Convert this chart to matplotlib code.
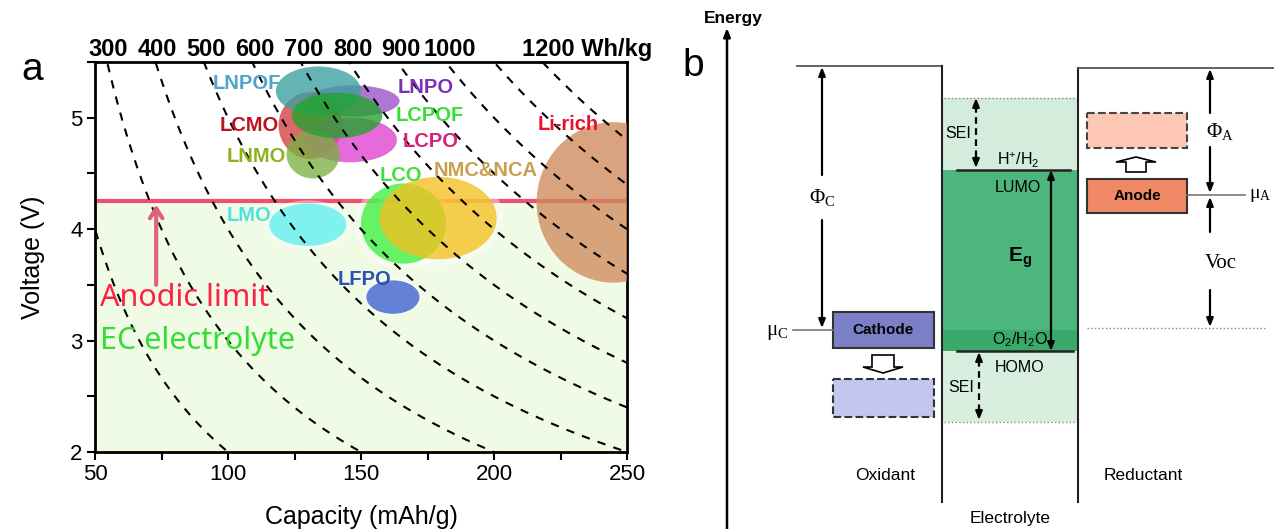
import numpy as np
import matplotlib.pyplot as plt
from matplotlib.patches import Ellipse, Rectangle, FancyArrow

plt.rcParams['font.family'] = ['Liberation Sans', 'DejaVu Sans']
plt.rcParams['mathtext.fontset'] = 'custom'
plt.rcParams['mathtext.rm'] = 'Liberation Serif'
plt.rcParams['mathtext.sf'] = 'Liberation Sans'
plt.rcParams['mathtext.bf'] = 'Liberation Sans:bold'
plt.rcParams['mathtext.it'] = 'Liberation Serif:italic'

# --- panel a data: cathode materials (capacity mAh/g, voltage V) ---
materials = ['LNPO', 'LCMO', 'LCPO', 'LNMO', 'LNPOF', 'LCPOF',
             'Li-rich', 'LMO', 'LCO', 'NMC&NCA', 'LFPO']
cap_center = [147, 131, 146, 132, 134, 141, 245, 130, 166, 179, 162]
cap_width = [35, 24, 35, 20, 32, 34, 58, 29, 32, 44, 20]
volt_center = [5.15, 4.93, 4.80, 4.67, 5.24, 5.02, 4.24, 4.04, 4.05, 4.10, 3.39]
volt_height = [0.28, 0.60, 0.40, 0.43, 0.44, 0.41, 1.44, 0.38, 0.72, 0.74, 0.30]
fill_colors = ['#9b4fc8', '#d04040', '#e040d0', '#7ab040', '#3a9fa0', '#1fa52a',
               '#cf8a5c', '#5ef0f0', '#3ef03e', '#f5c020', '#3a5fd0']
label_colors = ['#7d2fb5', '#b8141e', '#d8207a', '#8fb020', '#4fa5c8', '#35e035',
                '#e8102a', '#50e0e0', '#40e040', '#c8a050', '#2c4fb0']

energies = [200, 300, 400, 500, 600, 700, 800, 900, 1000, 1100, 1200]   # Wh/kg
top_energies = [300, 400, 500, 600, 700, 800, 900, 1000]
anodic_limit = 4.25

# --- panel b data: energy levels (schematic, y grows downward) ---
vacuum_c = 66
vacuum_a = 68
sei_top = 98
lumo = 170
mu_a = 195
mu_c = 330
homo = 351
sei_bottom = 422

fig = plt.figure(figsize=(12.74, 5.29), dpi=100)

# ================= panel a =================
ax = fig.add_axes([95/1274, 77/529, 532/1274, 390/529])
ax.set_xlim(50, 250)
ax.set_ylim(2, 5.5)
ax.axhspan(2, anodic_limit, color='#f0fbe6', zorder=0)
ax.axhline(anodic_limit, color='#f0506e', lw=3, zorder=1)

for m, c, w, v, h, fc in zip(materials, cap_center, cap_width, volt_center, volt_height, fill_colors):
    if m in ('LMO', 'LCO', 'NMC&NCA', 'LFPO'):
        ax.add_patch(Ellipse((c, v), w * 1.12, h * 1.15, fc='white', alpha=0.4, lw=0, zorder=2))
    ax.add_patch(Ellipse((c, v), w, h, fc=fc, alpha=0.78, lw=0, zorder=3))

cap = np.linspace(40, 260, 500)
for e in energies:
    ax.plot(cap, e / cap, color='black', lw=1.5, ls=(0, (4, 4)), zorder=4)

label_pos = {
    'LNPOF': (107, 5.31), 'LNPO': (174.5, 5.27), 'LCPOF': (176, 5.02),
    'LCPO': (176, 4.79), 'LCMO': (108, 4.93), 'LNMO': (110.5, 4.65),
    'Li-rich': (228, 4.94), 'LCO': (165, 4.48), 'NMC&NCA': (197, 4.53),
    'LMO': (108, 4.12), 'LFPO': (151.5, 3.55),
}
for m, col in zip(materials, label_colors):
    x, y = label_pos[m]
    ax.text(x, y, m, color=col, fontsize=14.5, fontweight='bold', ha='center', va='center', zorder=5)

ax.annotate('', xy=(73, 4.22), xytext=(73, 3.5),
            arrowprops=dict(arrowstyle='->,head_length=0.7,head_width=0.45', color='#e06080', lw=3,
                            shrinkA=0, shrinkB=0), zorder=5)
ax.text(52, 3.38, 'Anodic limit', color='#ff2040', fontsize=22, family=['Noto Sans', 'DejaVu Sans'],
        ha='left', va='center', zorder=5)
ax.text(52, 3.0, 'EC electrolyte', color='#33dd33', fontsize=22, family=['Noto Sans', 'DejaVu Sans'],
        ha='left', va='center', zorder=5)

# energy-density labels on top, where the iso-energy curves meet the top edge
for e in top_energies:
    ax.text(e / 5.45, 1.015, str(e), transform=ax.get_xaxis_transform(), ha='center', va='baseline',
            fontsize=17, fontweight='bold')
ax.text(1200 / 5.45 - 9.8, 1.015, '1200 Wh/kg', transform=ax.get_xaxis_transform(), ha='left',
        va='baseline', fontsize=17, fontweight='bold')

ax.set_xticks([50, 100, 150, 200, 250])
ax.set_xticks([75, 125, 175, 225], minor=True)
ax.set_yticks([2, 3, 4, 5])
ax.set_yticks([2.5, 3.5, 4.5, 5.5], minor=True)
ax.tick_params(which='both', direction='out', length=6, width=1.5, labelsize=16, pad=3)
for s in ax.spines.values():
    s.set_linewidth(2)
ax.set_xlabel('Capacity (mAh/g)', fontsize=18, labelpad=14)
ax.set_ylabel('Voltage (V)', fontsize=18, labelpad=18)
fig.text(32/1274, 1 - 70/529, 'a', fontsize=28, ha='center', va='center')

# ================= panel b =================
bx = fig.add_axes([680/1274, 0, 594/1274, 1])
bx.set_xlim(680, 1274)
bx.set_ylim(529, 0)
bx.axis('off')

def arrow(x0, y0, x1, y1, style='-|>', lw=1.6):
    bx.annotate('', xy=(x1, y1), xytext=(x0, y0),
                arrowprops=dict(arrowstyle=style + ',head_length=0.5,head_width=0.2', color='black', lw=lw,
                                shrinkA=0, shrinkB=0))

# energy axis
arrow(727, 529, 727, 28, lw=1.8)
bx.text(733, 18, 'Energy', fontsize=12.5, fontweight='bold', ha='center', va='center')
bx.text(693, 66, 'b', fontsize=28, ha='center', va='center')

# electrolyte bands
bx.fill_between([942, 1078], sei_top, lumo, color='#d4ecdc', lw=0)
bx.fill_between([942, 1078], lumo, homo, color='#4cb67c', lw=0)
bx.fill_between([942, 1078], mu_c, homo, color='#3aaa6a', lw=0)
bx.fill_between([942, 1078], homo, sei_bottom, color='#d8efdf', lw=0)
bx.plot([944, 1076], [sei_top, sei_top], ls=':', color='#888888', lw=1)
bx.plot([944, 1076], [sei_bottom, sei_bottom], ls=':', color='#888888', lw=1)

# walls / vacuum levels
bx.plot([797, 942], [vacuum_c, vacuum_c], color='#555555', lw=1.3)
bx.plot([942, 942], [vacuum_c, 502], color='#222222', lw=1.5)
bx.plot([1078, 1078], [vacuum_a, 502], color='#222222', lw=1.5)
bx.plot([1078, 1274], [vacuum_a, vacuum_a], color='#555555', lw=1.3)

# LUMO / HOMO and Eg
bx.plot([957, 1070], [lumo, lumo], color='#222222', lw=1.8)
bx.plot([957, 1073], [homo, homo], color='#222222', lw=1.8)
arrow(1051, homo, 1051, lumo, style='<|-|>')
bx.text(1020, 258, r'$\mathbf{E_g}$', fontsize=15, ha='center', va='center')
bx.text(1018, 160, r'$\mathsf{H^{+}/H_2}$', fontsize=11.5, ha='center', va='center')
bx.text(1018, 187, 'LUMO', fontsize=11.5, ha='center', va='center')
bx.text(1020, 340, r'$\mathsf{O_2/H_2O}$', fontsize=11.5, ha='center', va='center')
bx.text(1020, 368, 'HOMO', fontsize=11.5, ha='center', va='center')

# SEI dashed double arrows
for x, y0, y1, ty in [(976, sei_top, lumo - 2, 133), (979, homo + 1, sei_bottom - 2, 388)]:
    bx.plot([x, x], [y0 + 8, y1 - 8], color='black', lw=1.6, ls=(0, (3, 2)))
    arrow(x, y0 + 9, x, y0)
    arrow(x, y1 - 9, x, y1)
    bx.text(x - 18, ty, 'SEI', fontsize=11.5, ha='center', va='center')

# cathode side
arrow(822, 175, 822, vacuum_c + 1)
arrow(822, 220, 822, mu_c - 2)
bx.text(822, 197, r'$\mathrm{\Phi_C}$', fontsize=15, ha='center', va='center')
bx.plot([793, 833], [mu_c, mu_c], color='#777777', lw=1.2)
bx.text(777, 332, r'$\mathrm{\mu_C}$', fontsize=15, ha='center', va='center')
bx.add_patch(Rectangle((833, 312), 101, 36, fc='#7b7fc6', ec='#333333', lw=1.5))
bx.text(883, 330, 'Cathode', fontsize=11, fontweight='bold', ha='center', va='center')
bx.add_patch(FancyArrow(883, 355, 0, 18, width=22, head_width=40, head_length=6,
                        length_includes_head=True, fc='white', ec='black', lw=1.2))
bx.add_patch(Rectangle((833, 379), 101, 38, fc='#c3c6ee', ec='#333333', lw=1.5, ls='--'))
bx.text(885, 476, 'Oxidant', fontsize=12.5, ha='center', va='center')

# anode side
bx.add_patch(Rectangle((1087, 113), 100, 35, fc='#fcc8b4', ec='#444444', lw=1.5, ls='--'))
bx.add_patch(FancyArrow(1136, 172, 0, -15, width=20, head_width=40, head_length=5,
                        length_includes_head=True, fc='white', ec='black', lw=1.2))
bx.add_patch(Rectangle((1087, 179), 100, 34, fc='#f08866', ec='#333333', lw=1.5))
bx.text(1137, 196, 'Anode', fontsize=11, fontweight='bold', ha='center', va='center')
bx.plot([1187, 1245], [mu_a, mu_a], color='#777777', lw=1.2)
bx.text(1249, mu_a, r'$\mathrm{\mu_A}$', fontsize=14, ha='left', va='center')
arrow(1210, 113, 1210, vacuum_a + 1)
arrow(1210, 147, 1210, mu_a - 2)
bx.text(1220, 132, r'$\mathrm{\Phi_A}$', fontsize=15, ha='center', va='center')
arrow(1210, 232, 1210, mu_a + 2)
arrow(1210, 290, 1210, mu_c - 3)
bx.text(1221, 264, 'Voc', fontsize=15, family='Liberation Serif', ha='center', va='center')
bx.plot([1087, 1265], [mu_c - 2, mu_c - 2], ls=':', color='#888888', lw=1)
bx.text(1143, 475, 'Reductant', fontsize=12.5, ha='center', va='center')
bx.text(1010, 518, 'Electrolyte', fontsize=12.5, ha='center', va='center')

fig.savefig('out.png', dpi=100)
